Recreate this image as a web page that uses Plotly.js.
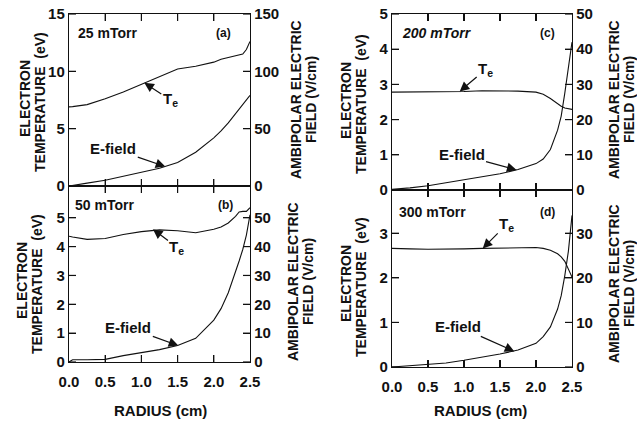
<!DOCTYPE html>
<html><head><meta charset="utf-8">
<script src="https://cdn.plot.ly/plotly-3.0.1.min.js"></script>
<style>html,body{margin:0;padding:0;background:#fff}#chart{width:637px;height:422px}</style>
</head><body><div id="chart"></div>
<script>
// Radius grid (cm)
const radius = [0, 0.05, 0.25, 0.5, 0.75, 1.0, 1.25, 1.5, 1.75, 2.0, 2.1, 2.2, 2.3, 2.35, 2.4, 2.45, 2.5];
// (a) 25 mTorr
const teA = [6.9, 6.92, 7.1, 7.6, 8.2, 8.85, 9.55, 10.2, 10.45, 10.8, 11.05, 11.2, 11.35, 11.4, 11.5, 11.9, 12.6];
const eA  = [0, 0.4, 2.5, 5, 8.7, 12, 15.5, 20.5, 29.5, 42, 48, 55, 63, 67, 71, 75, 79];
// (b) 50 mTorr
const teB = [4.36, 4.33, 4.25, 4.28, 4.42, 4.52, 4.58, 4.55, 4.48, 4.6, 4.68, 4.82, 5.05, 5.2, 5.22, 5.22, 5.35];
const eB  = [0, 0.8, 0.8, 0.9, 2.2, 3.3, 4.3, 5.7, 8.2, 14.5, 18.5, 24, 31, 35, 39, 44, 51];
// (c) 200 mTorr
const teC = [2.78, 2.78, 2.78, 2.78, 2.79, 2.8, 2.82, 2.82, 2.81, 2.78, 2.72, 2.6, 2.45, 2.38, 2.33, 2.3, 2.29];
const eC  = [0.2, 0.25, 0.6, 1.2, 2.0, 2.8, 3.7, 4.6, 5.8, 7.5, 8.8, 11.5, 17, 21, 27.5, 35, 42];
// (d) 300 mTorr
const teD = [2.66, 2.66, 2.65, 2.64, 2.64, 2.65, 2.66, 2.67, 2.68, 2.68, 2.66, 2.62, 2.54, 2.47, 2.37, 2.21, 2.02];
const eD  = [0, 0.05, 0.25, 0.5, 0.9, 1.5, 2.2, 2.9, 3.8, 5.3, 6.8, 9.0, 13, 16, 20.5, 26, 34];

// tick values
const xTicks = [0, 0.5, 1, 1.5, 2, 2.5];
const teTicksA = [0, 5, 10, 15], eTicksA = [0, 50, 100, 150];
const teTicksB = [0, 1, 2, 3, 4, 5], eTicksB = [0, 10, 20, 30, 40, 50];
const teTicksC = [0, 1, 2, 3, 4, 5], eTicksC = [0, 10, 20, 30, 40, 50];
const teTicksD = [0, 1, 2, 3], eTicksD = [0, 10, 20, 30];

const W = 637, H = 422;
const px = x => x / W, py = y => 1 - y / H;
const FONT = 'Liberation Sans, Arial, Helvetica, sans-serif';
const ink = '#111';

function line(x, y, xa, ya) {
  return {x: x, y: y, xaxis: xa, yaxis: ya, type: 'scatter', mode: 'lines',
    line: {color: ink, width: 1.1}, hoverinfo: 'skip'};
}
const data = [
  line(radius, teA, 'x', 'y'), line(radius, eA, 'x', 'y2'),
  line(radius, teB, 'x2', 'y3'), line(radius, eB, 'x2', 'y4'),
  line(radius, teC, 'x3', 'y5'), line(radius, eC, 'x3', 'y6'),
  line(radius, teD, 'x4', 'y7'), line(radius, eD, 'x4', 'y8')
];

const tickFont = {family: FONT, size: 15, color: ink, weight: 'bold'};
function xax(dom, anchor, labels) {
  return {domain: dom, anchor: anchor, range: [0, 2.5], tickvals: xTicks,
    tickformat: '.1f', ticks: 'inside', ticklen: 7, tickwidth: 1.2, tickcolor: ink,
    showline: true, linecolor: ink, linewidth: 1.2, mirror: 'ticks',
    showgrid: false, zeroline: false, showticklabels: labels, tickfont: tickFont,
    ticklabelstandoff: 6};
}
function yax(dom, anchor, range, vals, side, over) {
  const a = {domain: dom, anchor: anchor, range: range, tickvals: vals,
    ticktext: vals.map(String), ticks: 'inside', ticklen: 7, tickwidth: 1.2, tickcolor: ink,
    showline: true, linecolor: ink, linewidth: 1.2, showgrid: false, zeroline: false,
    tickfont: tickFont, side: side};
  if (over) { a.overlaying = over; }
  return a;
}
const xL = [px(69), px(250)], xR = [px(392), px(572)];
const rA = [0, 15], rA2 = [0, 150], rB = [0, 6.1], rB2 = [0, 61];
const rC = [0, 5], rC2 = [0, 50], rD = [0, 3.97], rD2 = [0, 39.7];
const layout = {
  width: W, height: H, margin: {l: 0, r: 0, t: 0, b: 0},
  paper_bgcolor: '#fff', plot_bgcolor: 'rgba(0,0,0,0)', showlegend: false,
  font: {family: FONT, color: ink},
  xaxis: xax(xL, 'y', false),
  yaxis: yax([py(186), py(14)], 'x', rA, teTicksA, 'left'),
  yaxis2: yax([py(186), py(14)], 'x', rA2, eTicksA, 'right', 'y'),
  xaxis2: xax(xL, 'y3', true),
  yaxis3: yax([py(362), py(186)], 'x2', rB, teTicksB, 'left'),
  yaxis4: yax([py(362), py(186)], 'x2', rB2, eTicksB, 'right', 'y3'),
  xaxis3: xax(xR, 'y5', false),
  yaxis5: yax([py(190), py(14)], 'x3', rC, teTicksC, 'left'),
  yaxis6: yax([py(190), py(14)], 'x3', rC2, eTicksC, 'right', 'y5'),
  xaxis4: xax(xR, 'y7', true),
  yaxis7: yax([py(367), py(190)], 'x4', rD, teTicksD, 'left'),
  yaxis8: yax([py(367), py(190)], 'x4', rD2, eTicksD, 'right', 'y7'),
  annotations: [],
  shapes: []
};

// explicit inward tick marks drawn from the tick arrays
const TL = 7;
function tickShapes(xa, yl, yr, yRange, yTicks, eTicks) {
  const s = layout.shapes, ln = {color: ink, width: 1.2};
  xTicks.slice(1, -1).forEach(v => {
    s.push({type: 'line', layer: 'above', xref: xa, yref: yl, x0: v, x1: v,
      ysizemode: 'pixel', yanchor: yRange[0], y0: 0, y1: TL, line: ln});
    s.push({type: 'line', layer: 'above', xref: xa, yref: yl, x0: v, x1: v,
      ysizemode: 'pixel', yanchor: yRange[1], y0: -TL, y1: 0, line: ln});
  });
  yTicks.forEach(v => s.push({type: 'line', layer: 'above', xref: xa, yref: yl, y0: v, y1: v,
    xsizemode: 'pixel', xanchor: 0, x0: 0, x1: TL, line: ln}));
  eTicks.forEach(v => s.push({type: 'line', layer: 'above', xref: xa, yref: yr, y0: v, y1: v,
    xsizemode: 'pixel', xanchor: 2.5, x0: -TL, x1: 0, line: ln}));
}
tickShapes('x', 'y', 'y2', rA, teTicksA, eTicksA);
tickShapes('x2', 'y3', 'y4', rB, teTicksB, eTicksB);
tickShapes('x3', 'y5', 'y6', rC, teTicksC, eTicksC);
tickShapes('x4', 'y7', 'y8', rD, teTicksD, eTicksD);

const ann = layout.annotations;
function txt(text, x, y, opts) {
  ann.push(Object.assign({text: text, xref: 'paper', yref: 'paper', x: px(x), y: py(y),
    showarrow: false, xanchor: 'center', yanchor: 'middle',
    font: {family: FONT, size: 14, color: ink, weight: 'bold'}}, opts || {}));
}
function vtxt(text, x, y, size) {
  txt(text, x, y, {textangle: -90, font: {family: FONT, size: size || 14, color: ink, weight: 'bold'}});
}
// axis titles
function leftTitle(cx, cy) { vtxt('ELECTRON', cx - 7, cy - 3); vtxt('TEMPERATURE  (eV)', cx + 8, cy); }
function rightTitle(cx, cy) { vtxt('AMBIPOLAR ELECTRIC', cx - 7, cy); vtxt('FIELD (V/cm)', cx + 8, cy); }
leftTitle(32, 102); leftTitle(29, 284); leftTitle(353, 104); leftTitle(353, 287);
rightTitle(303, 100); rightTitle(300, 282); rightTitle(621, 100); rightTitle(621, 284);
txt('RADIUS (cm)', 160, 410, {font: {family: FONT, size: 15, color: ink, weight: 'bold'}});
txt('RADIUS (cm)', 481, 410, {font: {family: FONT, size: 15, color: ink, weight: 'bold'}});
// panel labels
txt('25 mTorr', 76, 33, {xanchor: 'left'});
txt('(a)', 223, 33, {font: {family: FONT, size: 12, color: ink, weight: 'bold'}});
txt('50 mTorr', 73, 205, {xanchor: 'left'});
txt('(b)', 225, 205, {font: {family: FONT, size: 12, color: ink, weight: 'bold'}});
txt('200 mTorr', 400, 33, {xanchor: 'left', font: {family: FONT, size: 14, color: ink, weight: 'bold', style: 'italic'}});
txt('(c)', 547, 33, {font: {family: FONT, size: 12, color: ink, weight: 'bold'}});
txt('300 mTorr', 397, 212, {xanchor: 'left'});
txt('(d)', 547, 212, {font: {family: FONT, size: 12, color: ink, weight: 'bold'}});

// arrows
function arrow(text, xa, ya, x, y, ax, ay, size) {
  ann.push({text: text, xref: xa, yref: ya, x: x, y: y, ax: ax, ay: ay,
    showarrow: true, arrowhead: 2, arrowsize: 1.6, arrowwidth: 1.2, arrowcolor: ink,
    font: {family: FONT, size: size, color: ink, weight: 'bold'}});
}
const TE = 'T<sub>e</sub>';
arrow(TE, 'x', 'y', 1.04, 9.0, 26, 17, 15);
arrow('E-field', 'x', 'y2', 1.33, 16.9, -52, -18, 15);
arrow(TE, 'x2', 'y3', 1.16, 4.6, 24, 18, 15);
arrow('E-field', 'x2', 'y4', 1.51, 5.7, -50, -18, 15);
arrow(TE, 'x3', 'y5', 0.94, 2.8, 26, -22, 15);
arrow('E-field', 'x3', 'y6', 1.73, 5.7, -55, -15, 15);
arrow(TE, 'x4', 'y7', 1.26, 2.66, 24, -24, 15);
arrow('E-field', 'x4', 'y8', 1.7, 3.5, -56, -25, 15);

Plotly.newPlot('chart', data, layout, {staticPlot: true, displayModeBar: false});
</script></body></html>
